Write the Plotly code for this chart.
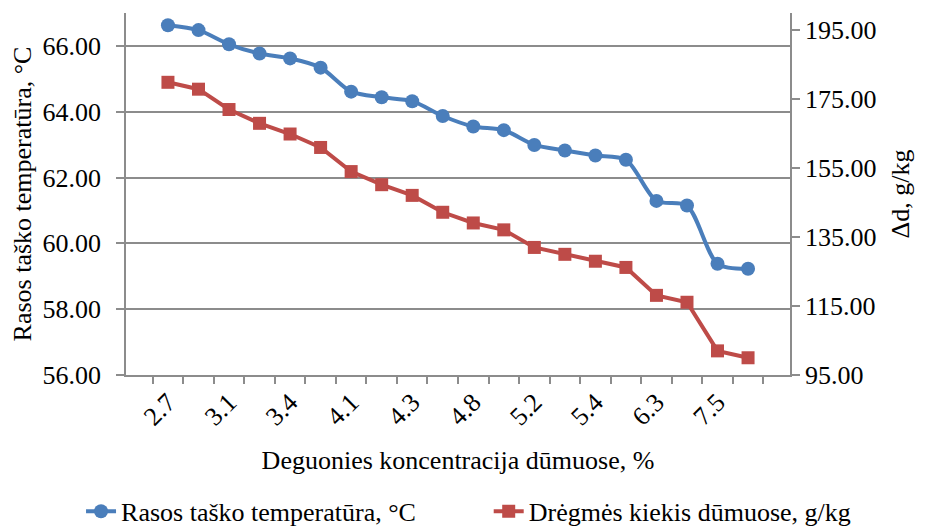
import plotly.graph_objects as go

categories = ["2.7", "2.9", "3.1", "3.2", "3.4", "3.8", "4.1", "4.2", "4.3", "4.6",
              "4.8", "5.0", "5.2", "5.3", "5.4", "5.8", "6.3", "6.9", "7.5", "8.0"]
shown_labels = [c if i % 2 == 0 else "" for i, c in enumerate(categories)]

dew_point = [66.63, 66.48, 66.05, 65.77, 65.62, 65.34, 64.61, 64.44, 64.32, 63.87,
             63.55, 63.44, 62.99, 62.82, 62.67, 62.54, 61.29, 61.15, 59.38, 59.23]
moisture = [179.9, 177.9, 172.0, 168.0, 164.9, 161.0, 154.0, 150.2, 147.1, 142.2,
            139.1, 137.1, 132.0, 130.0, 128.0, 126.2, 118.1, 116.1, 102.0, 100.0]

name_dew = "Rasos taško temperatūra, °C"
name_moist = "Drėgmės kiekis dūmuose, g/kg"

BLUE = "#4A7EBB"
RED = "#BE4B48"
GRAY = "#8C8C8C"
FONT = "Liberation Serif"
FS = 26

fig = go.Figure()
fig.add_trace(go.Scatter(
    x=categories, y=dew_point, name=name_dew, mode="lines+markers",
    line=dict(color=BLUE, width=4, shape="spline", smoothing=0.8),
    marker=dict(symbol="circle", size=14, color=BLUE),
    legend="legend",
))
fig.add_trace(go.Scatter(
    x=categories, y=moisture, name=name_moist, mode="lines+markers", yaxis="y2",
    line=dict(color=RED, width=4),
    marker=dict(symbol="square", size=13, color=RED),
    legend="legend2",
))

legend_common = dict(orientation="h", xref="container", yref="container",
                     xanchor="left", yanchor="middle", y=0.045,
                     font=dict(family=FONT, size=FS), itemwidth=30,
                     bgcolor="rgba(0,0,0,0)")

fig.update_layout(
    width=928, height=527,
    margin=dict(l=118, r=146, t=5, b=160, autoexpand=False),
    paper_bgcolor="white", plot_bgcolor="white",
    font=dict(family=FONT, size=FS, color="black"),
    showlegend=True,
    legend=dict(legend_common, x=0.0787),
    legend2=dict(legend_common, x=0.518),
    xaxis=dict(
        type="category", categoryorder="array", categoryarray=categories,
        tickmode="array", tickvals=categories, ticktext=shown_labels,
        tickson="boundaries", ticks="outside", ticklen=7, tickcolor=GRAY, tickwidth=1.5,
        tickangle=-45, showline=True, linecolor=GRAY, linewidth=1.5,
        showgrid=False, zeroline=False,
        title=dict(text="Deguonies koncentracija dūmuose, %", standoff=20,
                   font=dict(family=FONT, size=FS)),
        tickfont=dict(family=FONT, size=FS),
    ),
    yaxis=dict(
        range=[56, 67], tick0=56, dtick=2, tickformat=".2f",
        ticks="outside", ticklen=8, tickcolor=GRAY, tickwidth=1.5,
        ticklabelstandoff=10,
        showline=True, linecolor=GRAY, linewidth=1.5,
        showgrid=True, gridcolor=GRAY, gridwidth=1.5, zeroline=False,
        title=dict(text="Rasos taško temperatūra, °C", standoff=8,
                   font=dict(family=FONT, size=FS)),
        tickfont=dict(family=FONT, size=FS),
    ),
    yaxis2=dict(
        range=[95, 200], tick0=95, dtick=20, tickformat=".2f", overlaying="y", side="right",
        ticks="outside", ticklen=8, tickcolor=GRAY, tickwidth=1.5,
        showline=True, linecolor=GRAY, linewidth=1.5,
        showgrid=False, zeroline=False,
        title=dict(text="Δd, g/kg", standoff=15, font=dict(family=FONT, size=FS)),
        tickfont=dict(family=FONT, size=FS),
    ),
)

fig.write_html("out.html")
